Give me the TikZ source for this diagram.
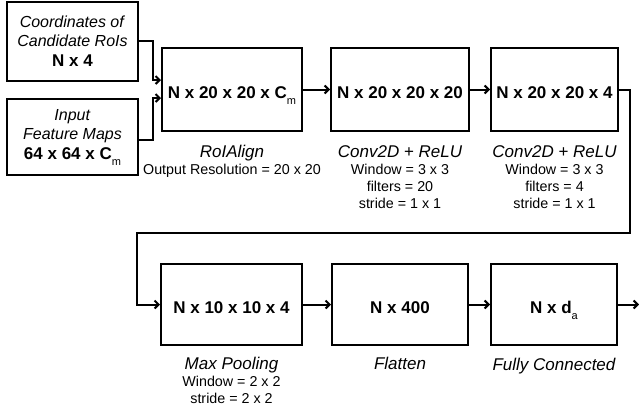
\documentclass[tikz,border=0pt]{standalone}
\usepackage{fontspec}
\setmainfont{Liberation Sans}
\usetikzlibrary{arrows.meta}
\newcommand{\lowidx}[1]{\raisebox{-6pt}{\fontsize{11}{11}\selectfont\mdseries #1}}
\newcommand{\layername}[1]{{\fontsize{17}{17}\selectfont\itshape #1}}

\begin{document}
\begin{tikzpicture}[x=1pt, y=-1pt, >={Straight Barb[length=4pt,width=8pt]}, line width=2pt,
  layer/.style={draw, inner sep=0pt, font=\fontsize{17}{20}\selectfont\bfseries, text height=17pt, text depth=0pt},
  inbox/.style={draw, inner sep=0pt, align=center, font=\fontsize{16}{19}\selectfont},
  caption/.style={anchor=base, align=center, inner sep=0pt, font=\fontsize{14.3}{17}\selectfont}]
  \useasboundingbox (0,0) rectangle (639,410);
  % inputs
  \node[inbox, minimum width=131pt, minimum height=79pt] (coords) at (72.5,41)
    {\textit{Coordinates of}\\\textit{Candidate RoIs}\\[1pt]\textbf{\fontsize{17}{19}\selectfont N x 4}};
  \node[inbox, minimum width=131pt, minimum height=76pt] (input) at (72.5,137)
    {\textit{Input}\\\textit{Feature Maps}\\[1pt]\textbf{\fontsize{17}{19}\selectfont 64 x 64 x C\lowidx{m}}};
  % layers
  \node[layer, minimum width=140pt, minimum height=83pt] (roi) at (232,89.5) {N x 20 x 20 x C\lowidx{m}};
  \node[layer, minimum width=138pt, minimum height=83pt] (conv1) at (400,89.5) {N x 20 x 20 x 20};
  \node[layer, minimum width=127pt, minimum height=83pt] (conv2) at (554.5,89.5) {N x 20 x 20 x 4};
  \node[layer, minimum width=141pt, minimum height=81pt] (pool) at (231.5,304.5) {N x 10 x 10 x 4};
  \node[layer, minimum width=136pt, minimum height=81pt] (flat) at (400,304.5) {N x 400};
  \node[layer, minimum width=126pt, minimum height=81pt] (fc) at (554,304.5) {N x d\lowidx{a}};
  % captions (base = last line)
  \node[caption] (roicap) at (232,174) {\layername{RoIAlign}\\Output Resolution = 20 x 20};
  \node[caption] (conv1cap) at (400,208) {\layername{Conv2D + ReLU}\\Window = 3 x 3\\filters = 20\\stride = 1 x 1};
  \node[caption] (conv2cap) at (554.5,208) {\layername{Conv2D + ReLU}\\Window = 3 x 3\\filters = 4\\stride = 1 x 1};
  \node[caption] (poolcap) at (231.5,403) {\layername{Max Pooling}\\Window = 2 x 2\\stride = 2 x 2};
  \node[caption] (flatcap) at (400,369) {\layername{Flatten}};
  \node[caption] (fccap) at (554,370) {\layername{Fully Connected}};
  % connectors
  \coordinate (wrap) at (137,233);
  \coordinate (out) at (639,304.5);
  \draw[->] (coords.east) -- ++(14,0) |- ([yshift=9.5pt]roi.west);
  \draw[->] ([yshift=-3pt]input.east) -- ++(14,0) |- ([yshift=-8.5pt]roi.west);
  \draw[->] (roi) -- (conv1);
  \draw[->] (conv1) -- (conv2);
  \draw[->] (conv2.east) -- ++(11,0) |- (wrap) |- (pool.west);
  \draw[->] (pool) -- (flat);
  \draw[->] (flat) -- (fc);
  \draw[->] (fc) -- (out);
\end{tikzpicture}
\end{document}
